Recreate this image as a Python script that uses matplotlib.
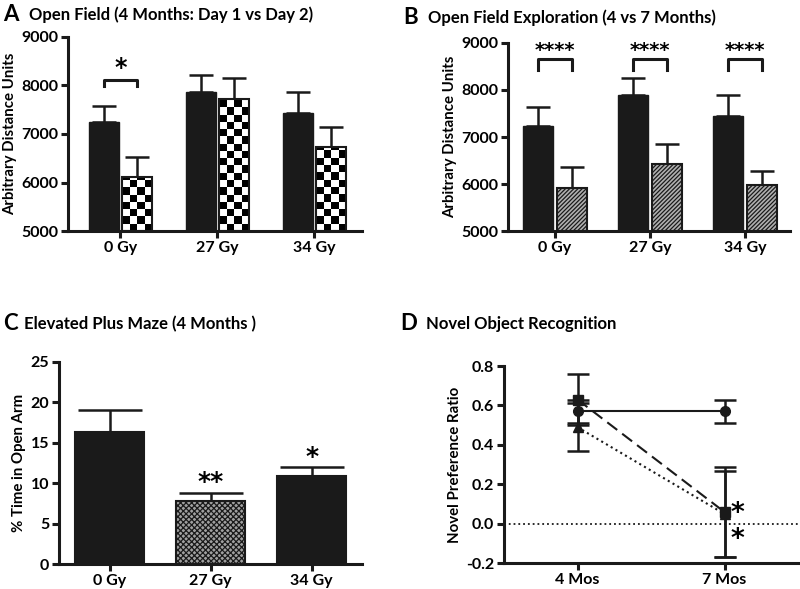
import matplotlib
matplotlib.use('Agg')
import matplotlib.pyplot as plt
import numpy as np

plt.rcParams['font.family'] = ['Lato', 'DejaVu Sans']
plt.rcParams['font.weight'] = 'bold'
plt.rcParams['axes.unicode_minus'] = False
plt.rcParams['hatch.linewidth'] = 0.9

# data
groups = ['0 Gy', '27 Gy', '34 Gy']

a_day1 = [7240, 7860, 7430]
a_day1_sem = [340, 360, 440]
a_day2 = [6110, 7720, 6740]
a_day2_sem = [410, 430, 400]

b_4mo = [7240, 7890, 7450]
b_4mo_sem = [390, 365, 440]
b_7mo = [5920, 6430, 5970]
b_7mo_sem = [450, 415, 310]

c_vals = [16.35, 7.83, 10.9]
c_sem = [2.65, 0.97, 1.1]

d_times = ['4 Mos', '7 Mos']
d_0gy = [0.57, 0.57]
d_0gy_sem = [0.06, 0.06]
d_27gy = [0.63, 0.06]
d_27gy_sem = [0.13, 0.23]
d_34gy = [0.49, 0.05]
d_34gy_sem = [0.12, 0.22]

DARK = '#1a1a1a'
LW = 2.2
STAR = 'DejaVu Sans'

fig = plt.figure(figsize=(8, 5.89), dpi=100)


def style(ax):
    for s in ['top', 'right']:
        ax.spines[s].set_visible(False)
    for s in ['left', 'bottom']:
        ax.spines[s].set_linewidth(LW)
        ax.spines[s].set_color(DARK)
    ax.tick_params(width=LW, length=5, color=DARK, labelsize=11.5, pad=2)
    for lab in ax.get_xticklabels() + ax.get_yticklabels():
        lab.set_fontweight('bold')


def up_err(ax, x, y, e, cap):
    ax.errorbar(x, y, yerr=[np.zeros(len(e)), e], fmt='none', ecolor=DARK,
                elinewidth=1.8, capsize=cap, capthick=1.8, zorder=1)


def checker(ax, bars, ncols, cell_h, base):
    for b in bars:
        x0, w, h = b.get_x(), b.get_width(), b.get_height()
        nrows = int(np.ceil(h / cell_h)) + 1
        img = 1 - (np.indices((nrows, ncols)).sum(axis=0) % 2).astype(float)
        im = ax.imshow(img, cmap='gray', interpolation='nearest', origin='lower',
                       extent=(x0, x0 + w, base, base + nrows * cell_h),
                       aspect='auto', zorder=2)
        im.set_clip_path(b)


# ---------------- A
ax = fig.add_axes([0.085, 0.6078, 0.3675, 0.3294])
x = np.arange(len(groups))
bw = 0.31
up_err(ax, x - 0.17, a_day1, a_day1_sem, 8.5)
up_err(ax, x + 0.17, a_day2, a_day2_sem, 8.5)
ax.bar(x - 0.17, np.array(a_day1) - 5000, bw, bottom=5000, color=DARK,
       edgecolor=DARK, zorder=2)
cb = ax.bar(x + 0.17, np.array(a_day2) - 5000, bw, bottom=5000, facecolor='none',
            edgecolor=DARK, linewidth=1.5, zorder=3)
checker(ax, cb, 4, 150, 5000)
ax.plot([-0.17, -0.17, 0.17, 0.17], [7990, 8115, 8115, 7990], color=DARK, lw=2.2)
ax.text(0, 8115, '*', ha='center', va='bottom', fontsize=17, fontweight='bold',
        family=STAR)
ax.set_ylim(5000, 9000)
ax.set_xlim(-0.54, 2.49)
ax.set_yticks([5000, 6000, 7000, 8000, 9000])
ax.set_xticks(x)
ax.set_xticklabels(groups)
ax.set_ylabel('Arbitrary Distance Units', fontsize=10.8, fontweight='bold', labelpad=3)
style(ax)
fig.text(0.004, 0.975, 'A', fontsize=16, fontweight='bold', va='center')
fig.text(0.036, 0.975, 'Open Field (4 Months: Day 1 vs Day 2)', fontsize=12,
         fontweight='bold', va='center')

# ---------------- B
ax = fig.add_axes([0.635, 0.6078, 0.3525, 0.3192])
up_err(ax, x - 0.18, b_4mo, b_4mo_sem, 8.5)
up_err(ax, x + 0.18, b_7mo, b_7mo_sem, 8.5)
ax.bar(x - 0.18, np.array(b_4mo) - 5000, 0.316, bottom=5000, color=DARK,
       edgecolor=DARK, zorder=2)
ax.bar(x + 0.18, np.array(b_7mo) - 5000, 0.316, bottom=5000, facecolor='#b0b0b0',
       edgecolor=DARK, linewidth=1.5, hatch='////////', zorder=2)
for xi in x:
    ax.plot([xi - 0.18, xi - 0.18, xi + 0.18, xi + 0.18], [8430, 8660, 8660, 8430],
            color=DARK, lw=2.2)
    ax.text(xi, 8630, '****', ha='center', va='bottom', fontsize=14,
            fontweight='bold', family=STAR)
ax.set_ylim(5000, 9000)
ax.set_xlim(-0.495, 2.47)
ax.set_yticks([5000, 6000, 7000, 8000, 9000])
ax.set_xticks(x)
ax.set_xticklabels(groups)
ax.set_ylabel('Arbitrary Distance Units', fontsize=10.8, fontweight='bold', labelpad=3)
style(ax)
fig.text(0.504, 0.97, 'B', fontsize=16, fontweight='bold', va='center')
fig.text(0.535, 0.97, 'Open Field Exploration (4 vs 7 Months)', fontsize=12,
         fontweight='bold', va='center')

# ---------------- C
ax = fig.add_axes([0.07375, 0.0424, 0.379, 0.3435])
up_err(ax, x, c_vals, c_sem, 23)
bars = ax.bar(x, c_vals, 0.68, color=[DARK, '#a0a0a0', DARK], edgecolor=DARK,
              linewidth=1.5, zorder=2)
bars[1].set_hatch('xxxxxx')
ax.text(1, 8.65, '**', ha='center', va='bottom', fontsize=18, fontweight='bold',
        family=STAR)
ax.text(2, 11.8, '*', ha='center', va='bottom', fontsize=18, fontweight='bold',
        family=STAR)
ax.set_ylim(0, 25)
ax.set_xlim(-0.5, 2.5)
ax.set_yticks([0, 5, 10, 15, 20, 25])
ax.set_xticks(x)
ax.set_xticklabels(groups)
ax.set_ylabel('% Time in Open Arm', fontsize=10.8, fontweight='bold', labelpad=3)
style(ax)
fig.text(0.004, 0.45, 'C', fontsize=16, fontweight='bold', va='center')
fig.text(0.03, 0.45, 'Elevated Plus Maze (4 Months )', fontsize=12,
         fontweight='bold', va='center')

# ---------------- D
ax = fig.add_axes([0.63, 0.0436, 0.3675, 0.335])
xd = np.arange(len(d_times))
ax.axhline(0, color=DARK, lw=1.3, ls=':', zorder=1)
ax.errorbar(xd, d_34gy, yerr=d_34gy_sem, color=DARK, marker='^', ms=7, lw=1.5,
            ls=':', capsize=8, capthick=1.8, elinewidth=1.8)
ax.errorbar(xd, d_27gy, yerr=d_27gy_sem, color=DARK, marker='s', ms=7, lw=1.5,
            ls=(0, (6, 3)), capsize=8, capthick=1.8, elinewidth=1.8)
ax.errorbar(xd, d_0gy, yerr=d_0gy_sem, color=DARK, marker='o', ms=7, lw=1.5,
            ls='-', capsize=8, capthick=1.8, elinewidth=1.8)
ax.text(1.09, 0.052, '*', ha='center', va='center', fontsize=19, fontweight='bold',
        family=STAR)
ax.text(1.09, -0.08, '*', ha='center', va='center', fontsize=19, fontweight='bold',
        family=STAR)
ax.set_ylim(-0.2, 0.8)
ax.set_xlim(-0.5, 1.5)
ax.set_yticks([-0.2, 0.0, 0.2, 0.4, 0.6, 0.8])
ax.set_yticklabels(['-0.2', '0.0', '0.2', '0.4', '0.6', '0.8'])
ax.set_xticks(xd)
ax.set_xticklabels(d_times)
ax.set_ylabel('Novel Preference Ratio', fontsize=10.8, fontweight='bold', labelpad=3)
style(ax)
fig.text(0.5, 0.45, 'D', fontsize=16, fontweight='bold', va='center')
fig.text(0.533, 0.45, 'Novel Object Recognition', fontsize=12,
         fontweight='bold', va='center')

fig.savefig('out.png', dpi=100)
